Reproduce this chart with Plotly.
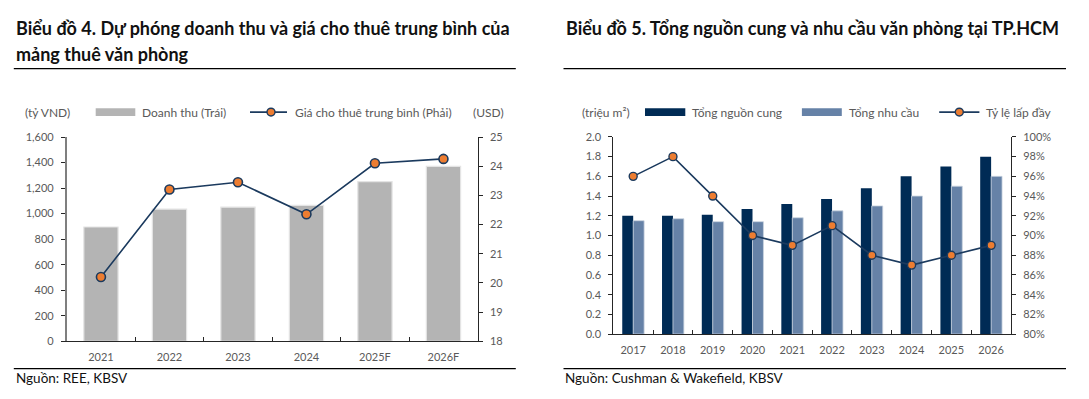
import plotly.graph_objects as go

# ---------------- data ----------------
years_left = ["2021", "2022", "2023", "2024", "2025F", "2026F"]
revenue = [895, 1035, 1050, 1065, 1250, 1370]          # tỷ VND (left axis)
rent = [20.2, 23.2, 23.45, 22.35, 24.1, 24.25]         # USD (right axis)

years_right = ["2017", "2018", "2019", "2020", "2021", "2022", "2023", "2024", "2025", "2026"]
supply = [1.20, 1.20, 1.21, 1.27, 1.32, 1.37, 1.48, 1.60, 1.70, 1.80]   # triệu m2
demand = [1.15, 1.17, 1.14, 1.14, 1.18, 1.25, 1.30, 1.40, 1.50, 1.60]
occupancy = [0.96, 0.98, 0.94, 0.90, 0.89, 0.91, 0.88, 0.87, 0.88, 0.89]

# ---------------- style ----------------
OFF = 8                      # default <body> margin of the written page
W, H = 1089 - 2 * OFF, 399 - 2 * OFF
FONT = "Lato"
TICK_COL = "#595959"
GRAY_BAR = "#B4B4B4"
NAVY = "#002B55"
LIGHT = "#6682A7"
LINE_COL = "#1B3A5E"
ORANGE = "#ED7D31"


def px(x):
    return (x - OFF) / W


def py(y):
    return 1 - (y - OFF) / H


fig = go.Figure()

# Left chart
fig.add_trace(go.Bar(x=years_left, y=revenue, name="Doanh thu (Trái)", width=0.5,
                     marker=dict(color=GRAY_BAR, line=dict(color="#E4E4E4", width=1.2)),
                     xaxis="x", yaxis="y", showlegend=False))
fig.add_trace(go.Scatter(x=years_left, y=rent, name="Giá cho thuê trung bình (Phải)",
                         mode="lines+markers", line=dict(color=LINE_COL, width=1.6),
                         marker=dict(color=ORANGE, size=9, line=dict(color=LINE_COL, width=1.6)),
                         xaxis="x", yaxis="y2", showlegend=False))

# Right chart
fig.add_trace(go.Bar(x=years_right, y=supply, name="Tổng nguồn cung", width=0.275, offset=-0.275,
                     marker=dict(color=NAVY, line=dict(width=0)),
                     xaxis="x2", yaxis="y3", showlegend=False))
fig.add_trace(go.Bar(x=years_right, y=demand, name="Tổng nhu cầu", width=0.275, offset=0,
                     marker=dict(color=LIGHT, line=dict(color="#C9D3E0", width=0.8)),
                     xaxis="x2", yaxis="y3", showlegend=False))
fig.add_trace(go.Scatter(x=years_right, y=occupancy, name="Tỷ lệ lấp đầy",
                         mode="lines+markers", line=dict(color=LINE_COL, width=1.6),
                         marker=dict(color=ORANGE, size=8, line=dict(color=LINE_COL, width=1.4)),
                         xaxis="x2", yaxis="y4", showlegend=False))

tickfont = dict(family=FONT, size=11, color=TICK_COL)

xcommon = dict(type="category", showline=True, linecolor="#262626", linewidth=1,
               ticks="inside", tickson="boundaries", ticklen=4, tickcolor="#262626",
               showgrid=False, zeroline=False, tickfont=tickfont, ticklabelstandoff=6,
               fixedrange=True)
ycommon = dict(showline=True, linecolor="#262626", linewidth=1, ticks="outside", ticklen=4,
               tickcolor="#262626", showgrid=False, zeroline=False, tickfont=tickfont,
               ticklabelstandoff=5, fixedrange=True)

fig.update_layout(
    width=W, height=H, autosize=False,
    margin=dict(l=0, r=0, t=0, b=0),
    paper_bgcolor="white", plot_bgcolor="rgba(0,0,0,0)",
    barmode="group", showlegend=False,
    font=dict(family=FONT, size=11, color=TICK_COL),
    xaxis=dict(xcommon, domain=[px(66.7), px(477.7)], anchor="y", range=[-0.5, 5.5]),
    yaxis=dict(ycommon, domain=[py(345.7), py(134.3)], anchor="x", range=[0, 1600], dtick=200,
               tickformat=",", linecolor="#7F7F7F", linewidth=1.6),
    yaxis2=dict(ycommon, overlaying="y", side="right", anchor="x", range=[18, 25], dtick=1),
    xaxis2=dict(xcommon, domain=[px(613.3), px(1011)], anchor="y3", range=[-0.5, 9.5]),
    yaxis3=dict(ycommon, domain=[py(338.3), py(134.2)], anchor="x2", range=[0, 2.0], dtick=0.2,
                tickformat=".1f"),
    yaxis4=dict(ycommon, overlaying="y3", side="right", anchor="x2", range=[0.8, 1.0],
                dtick=0.02, tickformat=".0%"),
)

shapes = []
ann = []


def text(x, y, s, size=12, color=TICK_COL, bold=False, anchor="left"):
    ann.append(dict(x=px(x), y=py(y), xref="paper", yref="paper", text=(f"<b>{s}</b>" if bold else s),
                    showarrow=False, xanchor=anchor, yanchor="middle",
                    font=dict(family=FONT, size=size, color=color)))


def hline(x0, x1, y, color="black", w=1.3):
    shapes.append(dict(type="line", xref="paper", yref="paper", x0=px(x0), x1=px(x1),
                       y0=py(y), y1=py(y), line=dict(color=color, width=w)))


def rect(x0, x1, y0, y1, color):
    shapes.append(dict(type="rect", xref="paper", yref="paper", x0=px(x0), x1=px(x1),
                       y0=py(y1), y1=py(y0), fillcolor=color, line=dict(width=0)))


def dot(x, y, r, color, lc):
    shapes.append(dict(type="circle", xref="paper", yref="paper", x0=px(x - r), x1=px(x + r),
                       y0=py(y + r), y1=py(y - r), fillcolor=color, line=dict(color=lc, width=1.4)))


# Titles
text(13.5, 21.5, "Biểu đồ 4. Dự phóng doanh thu và giá cho thuê trung bình của", size=18, color="#111111", bold=True)
text(13.5, 48.5, "mảng thuê văn phòng", size=18, color="#111111", bold=True)
text(563.5, 21.5, "Biểu đồ 5. Tổng nguồn cung và nhu cầu văn phòng tại TP.HCM", size=18, color="#111111", bold=True)
hline(13.8, 515.8, 63.5)
hline(563.5, 1066, 63.5)
hline(13.8, 515.8, 374)
hline(563.5, 1066, 374)

# Sources
text(13.5, 384, "Nguồn: REE, KBSV", size=13.5, color="#111111")
text(563.3, 384, "Nguồn: Cushman & Wakefield, KBSV", size=13.5, color="#111111")

# Left legend row
LY = 108.5
text(47.7, LY, "(tỷ VND)", anchor="center")
rect(95.7, 135.3, LY - 4, LY + 4, GRAY_BAR)
text(139.8, LY, "Doanh thu (Trái)")
hline(250, 287, LY, color=LINE_COL, w=1.6)
dot(271, LY, 4, ORANGE, LINE_COL)
text(293.4, LY, "Giá cho thuê trung bình (Phải)")
text(488, LY, "(USD)", anchor="center")

# Right legend row
text(606, LY, "(triệu m²)", anchor="center")
rect(645, 685.3, LY - 4, LY + 4, NAVY)
text(689.9, LY, "Tổng nguồn cung")
rect(801.9, 841.8, LY - 4, LY + 4, LIGHT)
text(846.7, LY, "Tổng nhu cầu")
hline(939.2, 979.4, LY, color=LINE_COL, w=1.6)
dot(959.3, LY, 4, ORANGE, LINE_COL)
text(984, LY, "Tỷ lệ lấp đầy")

fig.update_layout(shapes=shapes, annotations=ann)
fig.write_html("out.html")
